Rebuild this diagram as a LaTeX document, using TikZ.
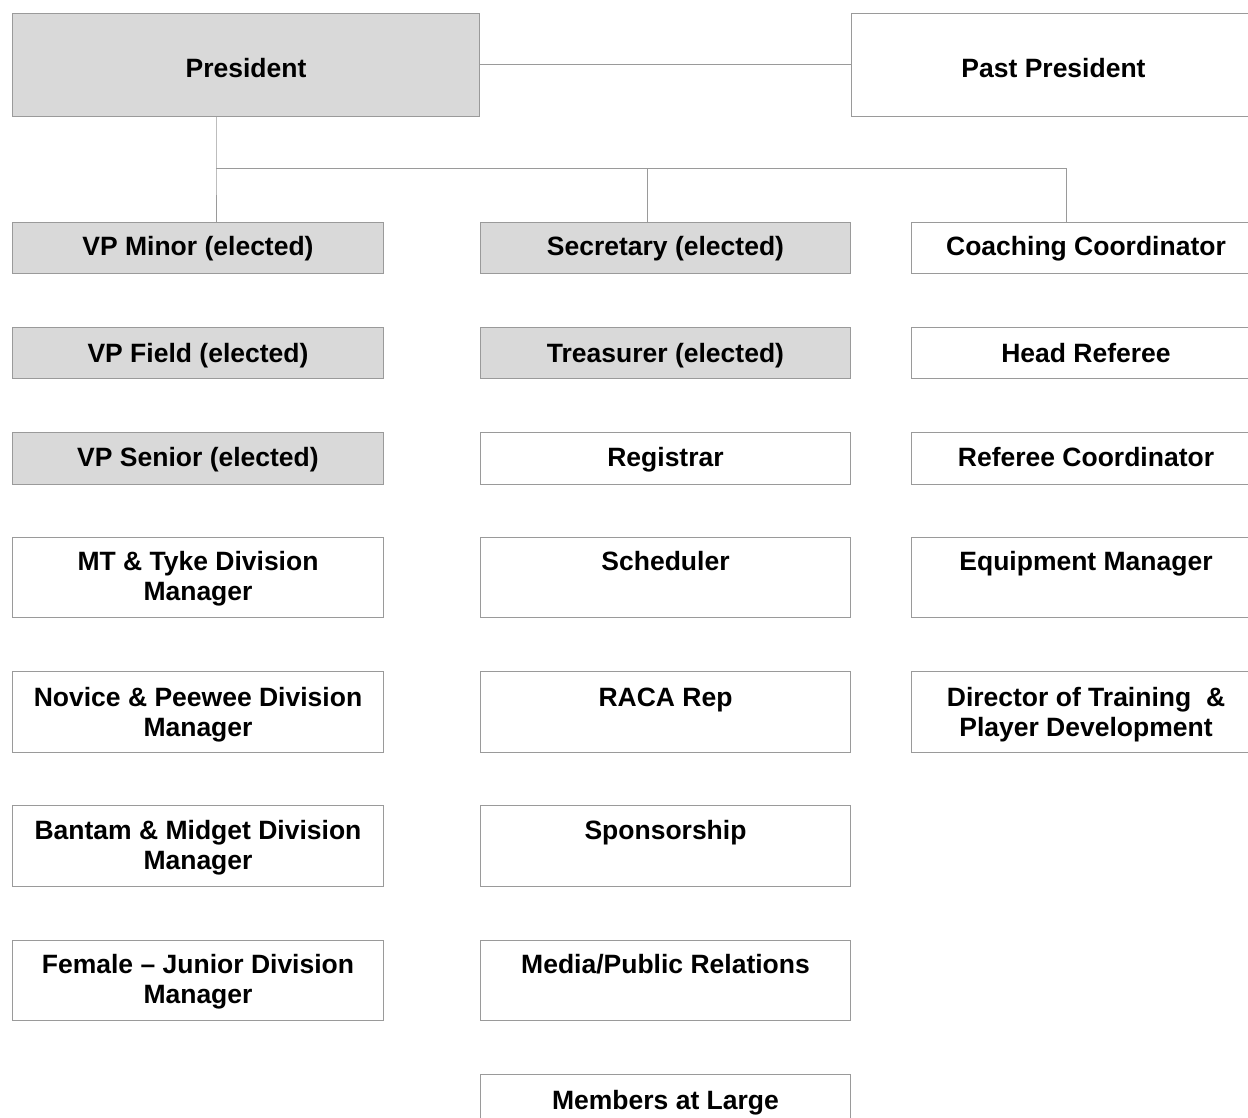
\documentclass[tikz,border=0pt]{standalone}
\usepackage{fontspec}
\setmainfont{Liberation Sans}
\definecolor{boxline}{HTML}{9A9A9A}
\definecolor{boxfill}{HTML}{D9D9D9}
\tikzset{
  box/.style={draw=boxline, line width=1pt, rectangle, inner sep=0pt, anchor=north west},
  shaded/.style={box, fill=boxfill},
  lab/.style={font=\bfseries\fontsize{26.5}{30}\selectfont, align=center, anchor=base, inner sep=0pt},
  conn/.style={draw=boxline, line width=1pt}
}
\begin{document}
\begin{tikzpicture}[x=1pt,y=-1pt]
\useasboundingbox[fill=white] (0,0) rectangle (1248,1118);
\clip (0,0) rectangle (1248,1118);
% top row
\node[shaded, minimum width=467pt, minimum height=103pt] (pres) at (12,13) {};
\node[box, minimum width=407pt, minimum height=103pt] (past) at (851,13) {};
\node[lab] (presT) at ([yshift=-65pt]pres.north) {President};
\node[lab] (pastT) at ([yshift=-65pt]pres.north -| 1053.5,0) {Past President};
% left column
\node[shaded, minimum width=371pt, minimum height=51pt] (vpmin) at (12,222) {};
\node[shaded, minimum width=371pt, minimum height=51pt] (vpfld) at (12,327) {};
\node[shaded, minimum width=371pt, minimum height=52pt] (vpsen) at (12,432) {};
\node[box, minimum width=371pt, minimum height=80pt] (mt) at (12,537) {};
\node[box, minimum width=371pt, minimum height=81pt] (nov) at (12,671) {};
\node[box, minimum width=371pt, minimum height=81pt] (ban) at (12,805) {};
\node[box, minimum width=371pt, minimum height=80pt] (fem) at (12,940) {};
% middle column
\node[shaded, minimum width=370pt, minimum height=51pt] (sec) at (480,222) {};
\node[shaded, minimum width=370pt, minimum height=51pt] (tre) at (480,327) {};
\node[box, minimum width=370pt, minimum height=52pt] (reg) at (480,432) {};
\node[box, minimum width=370pt, minimum height=80pt] (sch) at (480,537) {};
\node[box, minimum width=370pt, minimum height=81pt] (raca) at (480,671) {};
\node[box, minimum width=370pt, minimum height=81pt] (spo) at (480,805) {};
\node[box, minimum width=370pt, minimum height=80pt] (med) at (480,940) {};
\node[box, minimum width=370pt, minimum height=80pt] (mem) at (480,1074) {};
% right column
\node[box, minimum width=349pt, minimum height=51pt] (coa) at (911,222) {};
\node[box, minimum width=349pt, minimum height=51pt] (hr) at (911,327) {};
\node[box, minimum width=349pt, minimum height=52pt] (rc) at (911,432) {};
\node[box, minimum width=349pt, minimum height=80pt] (eq) at (911,537) {};
\node[box, minimum width=349pt, minimum height=81pt] (dir) at (911,671) {};
% labels
\node[lab] (vpminT) at ([yshift=-33pt]vpmin.north) {VP Minor (elected)};
\node[lab] (vpfldT) at ([yshift=-35pt]vpfld.north) {VP Field (elected)};
\node[lab] (vpsenT) at ([yshift=-34pt]vpsen.north) {VP Senior (elected)};
\node[lab] (mtT) at ([yshift=-63pt]mt.north) {MT \& Tyke Division\\Manager};
\node[lab] (novT) at ([yshift=-65pt]nov.north) {Novice \& Peewee Division\\Manager};
\node[lab] (banT) at ([yshift=-64pt]ban.north) {Bantam \& Midget Division\\Manager};
\node[lab] (femT) at ([yshift=-63pt]fem.north) {Female -- Junior Division\\Manager};
\node[lab] (secT) at ([yshift=-33pt]sec.north) {Secretary (elected)};
\node[lab] (treT) at ([yshift=-35pt]tre.north) {Treasurer (elected)};
\node[lab] (regT) at ([yshift=-34pt]reg.north) {Registrar};
\node[lab] (schT) at ([yshift=-33pt]sch.north) {Scheduler};
\node[lab] (racaT) at ([yshift=-35pt]raca.north) {RACA Rep};
\node[lab] (spoT) at ([yshift=-34pt]spo.north) {Sponsorship};
\node[lab] (medT) at ([yshift=-33pt]med.north) {Media/Public Relations};
\node[lab] (memT) at ([yshift=-35pt]mem.north) {Members at Large};
\node[lab] (coaT) at ([yshift=-33pt]coa.north) {Coaching Coordinator};
\node[lab] (hrT) at ([yshift=-35pt]hr.north) {Head Referee};
\node[lab] (rcT) at ([yshift=-34pt]rc.north) {Referee Coordinator};
\node[lab] (eqT) at ([yshift=-33pt]eq.north) {Equipment Manager};
\node[lab] (dirT) at ([yshift=-65pt]dir.north) {Director of Training\ \ \&\\Player Development};
% connectors
\coordinate (jL) at (216,169);
\coordinate (jM) at (647,169);
\coordinate (jR) at (1066,169);
\draw[conn] (pres.east |- 0,65) -- (past.west |- 0,65);
\draw[conn] (pres.south -| jL) -- (jL) -- (vpmin.north -| jL);
\draw[conn] (jL) -- (jR) -- (coa.north -| jR);
\draw[conn] (jM) -- (sec.north -| jM);
\end{tikzpicture}
\end{document}
